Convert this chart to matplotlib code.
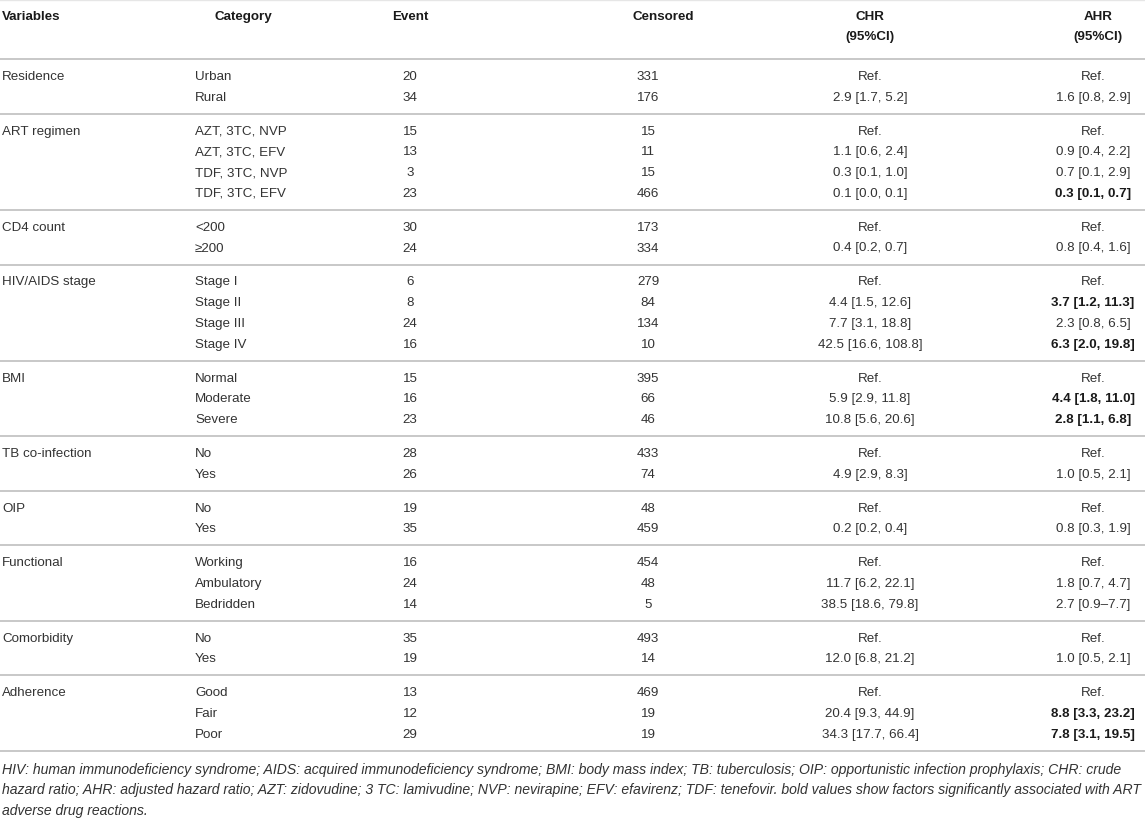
import matplotlib
matplotlib.use('Agg')
import matplotlib.pyplot as plt

plt.rcParams['font.family'] = ['Liberation Sans', 'DejaVu Sans']

# Table data
variables = ['Residence', 'ART regimen', 'CD4 count', 'HIV/AIDS stage', 'BMI',
             'TB co-infection', 'OIP', 'Functional', 'Comorbidity', 'Adherence']
categories = [
    ['Urban', 'Rural'],
    ['AZT, 3TC, NVP', 'AZT, 3TC, EFV', 'TDF, 3TC, NVP', 'TDF, 3TC, EFV'],
    ['<200', '≥200'],
    ['Stage I', 'Stage II', 'Stage III', 'Stage IV'],
    ['Normal', 'Moderate', 'Severe'],
    ['No', 'Yes'],
    ['No', 'Yes'],
    ['Working', 'Ambulatory', 'Bedridden'],
    ['No', 'Yes'],
    ['Good', 'Fair', 'Poor'],
]
events = [[20, 34], [15, 13, 3, 23], [30, 24], [6, 8, 24, 16], [15, 16, 23],
          [28, 26], [19, 35], [16, 24, 14], [35, 19], [13, 12, 29]]
censored = [[331, 176], [15, 11, 15, 466], [173, 334], [279, 84, 134, 10],
            [395, 66, 46], [433, 74], [48, 459], [454, 48, 5], [493, 14],
            [469, 19, 19]]
chr_vals = [
    ['Ref.', '2.9 [1.7, 5.2]'],
    ['Ref.', '1.1 [0.6, 2.4]', '0.3 [0.1, 1.0]', '0.1 [0.0, 0.1]'],
    ['Ref.', '0.4 [0.2, 0.7]'],
    ['Ref.', '4.4 [1.5, 12.6]', '7.7 [3.1, 18.8]', '42.5 [16.6, 108.8]'],
    ['Ref.', '5.9 [2.9, 11.8]', '10.8 [5.6, 20.6]'],
    ['Ref.', '4.9 [2.9, 8.3]'],
    ['Ref.', '0.2 [0.2, 0.4]'],
    ['Ref.', '11.7 [6.2, 22.1]', '38.5 [18.6, 79.8]'],
    ['Ref.', '12.0 [6.8, 21.2]'],
    ['Ref.', '20.4 [9.3, 44.9]', '34.3 [17.7, 66.4]'],
]
ahr_vals = [
    ['Ref.', '1.6 [0.8, 2.9]'],
    ['Ref.', '0.9 [0.4, 2.2]', '0.7 [0.1, 2.9]', '0.3 [0.1, 0.7]'],
    ['Ref.', '0.8 [0.4, 1.6]'],
    ['Ref.', '3.7 [1.2, 11.3]', '2.3 [0.8, 6.5]', '6.3 [2.0, 19.8]'],
    ['Ref.', '4.4 [1.8, 11.0]', '2.8 [1.1, 6.8]'],
    ['Ref.', '1.0 [0.5, 2.1]'],
    ['Ref.', '0.8 [0.3, 1.9]'],
    ['Ref.', '1.8 [0.7, 4.7]', '2.7 [0.9–7.7]'],
    ['Ref.', '1.0 [0.5, 2.1]'],
    ['Ref.', '8.8 [3.3, 23.2]', '7.8 [3.1, 19.5]'],
]
# significant AHR values shown in bold
ahr_bold = [
    [False, False],
    [False, False, False, True],
    [False, False],
    [False, True, False, True],
    [False, True, True],
    [False, False],
    [False, False],
    [False, False, False],
    [False, False],
    [False, True, True],
]
footnote = [
    'HIV: human immunodeficiency syndrome; AIDS: acquired immunodeficiency syndrome; BMI: body mass index; TB: tuberculosis; OIP: opportunistic infection prophylaxis; CHR: crude',
    'hazard ratio; AHR: adjusted hazard ratio; AZT: zidovudine; 3 TC: lamivudine; NVP: nevirapine; EFV: efavirenz; TDF: tenefovir. bold values show factors significantly associated with ART',
    'adverse drug reactions.',
]

W, H = 1145, 820
fig = plt.figure(figsize=(W / 100, H / 100), dpi=100)
ax = fig.add_axes([0, 0, 1, 1])
ax.set_xlim(0, W)
ax.set_ylim(H, 0)
ax.axis('off')

fs = 9.6
txt_col = '#333333'
head_col = '#1a1a1a'
line_col = '#c8c8c8'

# column x positions
x_var = 2
x_cat_head, x_cat = 243, 195
x_ev = 410
x_cens_head, x_cens = 663, 648
x_chr = 870
x_ahr_head, x_ahr = 1098, 1093

# header
hy1, hy2 = 17, 37
ax.text(x_var, hy1, 'Variables', fontsize=fs, fontweight='bold', color=head_col, va='center')
ax.text(x_cat_head, hy1, 'Category', fontsize=fs, fontweight='bold', color=head_col, va='center', ha='center')
ax.text(x_ev, hy1, 'Event', fontsize=fs, fontweight='bold', color=head_col, va='center', ha='center')
ax.text(x_cens_head, hy1, 'Censored', fontsize=fs, fontweight='bold', color=head_col, va='center', ha='center')
ax.text(x_chr, hy1, 'CHR', fontsize=fs, fontweight='bold', color=head_col, va='center', ha='center')
ax.text(x_chr, hy2, '(95%CI)', fontsize=fs, fontweight='bold', color=head_col, va='center', ha='center')
ax.text(x_ahr_head, hy1, 'AHR', fontsize=fs, fontweight='bold', color=head_col, va='center', ha='center')
ax.text(x_ahr_head, hy2, '(95%CI)', fontsize=fs, fontweight='bold', color=head_col, va='center', ha='center')

ax.plot([0, W], [1, 1], color='#e6e6e6', lw=1.0)

row_h = 20.7
pad = 13.3
y_line = 60
ax.plot([0, W], [y_line, y_line], color=line_col, lw=1.4)

for g, var in enumerate(variables):
    y0 = y_line + pad / 2 + row_h / 2
    ax.text(x_var, y0, var, fontsize=fs, color=txt_col, va='center')
    for i, cat in enumerate(categories[g]):
        y = y0 + i * row_h
        ax.text(x_cat, y, cat, fontsize=fs, color=txt_col, va='center')
        ax.text(x_ev, y, str(events[g][i]), fontsize=fs, color=txt_col, va='center', ha='center')
        ax.text(x_cens, y, str(censored[g][i]), fontsize=fs, color=txt_col, va='center', ha='center')
        ax.text(x_chr, y, chr_vals[g][i], fontsize=fs, color=txt_col, va='center', ha='center')
        bold = ahr_bold[g][i]
        ax.text(x_ahr, y, ahr_vals[g][i], fontsize=fs, va='center', ha='center',
                fontweight='bold' if bold else 'normal',
                color=head_col if bold else txt_col)
    y_line = y_line + len(categories[g]) * row_h + pad
    ax.plot([0, W], [y_line, y_line], color=line_col, lw=1.4)

# footnote
for k, line in enumerate(footnote):
    ax.text(x_var, 770 + k * 20.5, line, fontsize=10.1, style='italic',
            color=txt_col, va='center')

fig.savefig('out.png', dpi=100)
